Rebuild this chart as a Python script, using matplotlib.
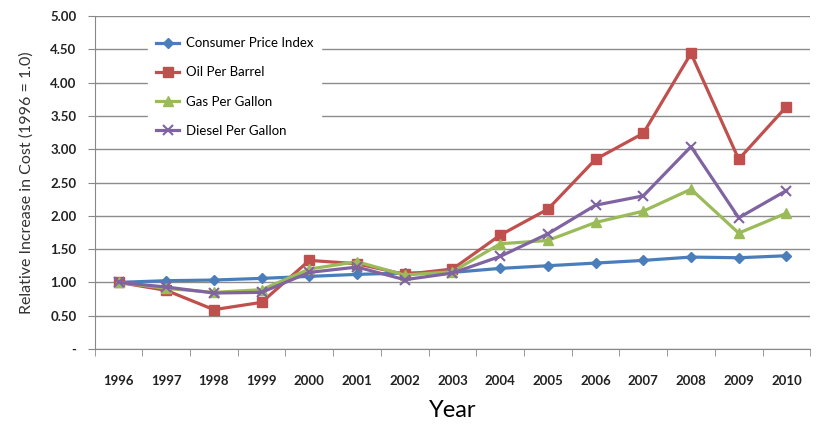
import matplotlib.pyplot as plt

years = [str(y) for y in range(1996, 2011)]
cpi = [1.00, 1.025, 1.035, 1.06, 1.09, 1.12, 1.14, 1.15, 1.21, 1.25, 1.29, 1.33, 1.38, 1.37, 1.40]
oil = [1.00, 0.88, 0.59, 0.70, 1.33, 1.28, 1.12, 1.20, 1.71, 2.10, 2.85, 3.24, 4.44, 2.85, 3.64]
gas = [1.00, 0.91, 0.85, 0.89, 1.20, 1.31, 1.11, 1.16, 1.58, 1.63, 1.90, 2.07, 2.40, 1.74, 2.04]
diesel = [1.00, 0.93, 0.84, 0.85, 1.15, 1.23, 1.04, 1.14, 1.39, 1.73, 2.16, 2.30, 3.04, 1.97, 2.38]
yticks = [0, 0.5, 1.0, 1.5, 2.0, 2.5, 3.0, 3.5, 4.0, 4.5, 5.0]
ytick_labels = ['-'] + ['%.2f' % v for v in yticks[1:]]

plt.rcParams['font.family'] = 'Lato'

fig = plt.figure(figsize=(8.16, 4.25), dpi=100)
ax = fig.add_axes([0.116, 0.179, 0.877, 0.783])

x = list(range(len(years)))
ax.plot(x, cpi, color='#4A7EBB', marker='D', markersize=5, linewidth=2.3, label='Consumer Price Index')
ax.plot(x, oil, color='#C0504D', marker='s', markersize=7, linewidth=2.3, label='Oil Per Barrel')
ax.plot(x, gas, color='#9BBB59', marker='^', markersize=7, linewidth=2.3, label='Gas Per Gallon')
ax.plot(x, diesel, color='#8064A2', marker='x', markersize=7, markeredgewidth=1.5, linewidth=2.3, label='Diesel Per Gallon')

ax.set_xlim(-0.5, len(years) - 0.5)
ax.set_ylim(0, 5)
ax.set_yticks(yticks)
ax.set_yticklabels(ytick_labels, fontsize=9.5, fontweight='bold', color='#222222')
ax.set_xticks(x)
ax.set_xticklabels(years, fontsize=9.5, fontweight='bold', color='#222222')
ax.tick_params(axis='x', which='major', length=0, pad=19)
ax.set_xticks([i - 0.5 for i in range(len(years) + 1)], minor=True)
ax.tick_params(axis='x', which='minor', length=5, color='#888888')
ax.tick_params(axis='y', length=5, color='#888888', pad=8)

ax.grid(axis='y', color='#8c8c8c', linewidth=1.0)
ax.set_axisbelow(True)
for side in ['top', 'right']:
    ax.spines[side].set_visible(False)
for side in ['left', 'bottom']:
    ax.spines[side].set_color('#888888')

ax.set_xlabel('Year', fontsize=17, labelpad=9)
ax.set_ylabel('Relative Increase in Cost (1996 = 1.0)', fontsize=11.5, color='#333333', labelpad=12)

leg = ax.legend(loc='upper left', bbox_to_anchor=(0.065, 0.98), frameon=True, fontsize=9.5,
                labelspacing=1.3, handlelength=1.8, handletextpad=0.5, borderpad=0.6)
leg.get_frame().set_facecolor('white')
leg.get_frame().set_edgecolor('white')
leg.get_frame().set_alpha(1.0)

fig.savefig('out.png', dpi=100)
